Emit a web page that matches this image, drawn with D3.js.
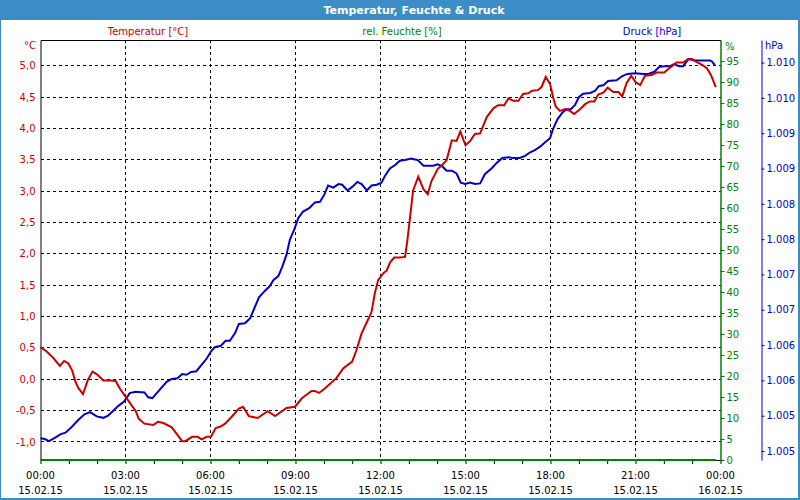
<!DOCTYPE html>
<html><head><meta charset="utf-8">
<script src="https://cdn.jsdelivr.net/npm/d3@7/dist/d3.min.js"></script>
<style>
body{margin:0;background:#fff}
svg{display:block}
text{font-family:"DejaVu Sans",sans-serif;font-size:10px}
</style>
</head><body>
<svg id="c" width="800" height="500"></svg>
<script>
// ---------- data ----------
const tempTimes = [0,13,27,41,50,59,67,74,80,90,100,110,119,133,147,159,168,180,194,201,208,220,239,249,260,278,290,300,307,321,333,341,352,361,371,380,391,405,420,429,441,460,481,497,521,539,553,574,581,590,602,627,641,660,669,680,693,701,708,715,726,733,740,749,761,772,777,782,789,800,811,820,828,841,851,860,871,881,889,900,910,920,931,945,959,969,982,991,1001,1012,1022,1033,1041,1053,1061,1070,1079,1086,1091,1100,1111,1121,1130,1143,1154,1164,1173,1181,1192,1201,1213,1224,1232,1241,1251,1260,1270,1280,1294,1305,1321,1333,1347,1361,1370,1379,1389,1402,1411,1420,1430];
const tempValues = [0.51,0.44,0.34,0.21,0.29,0.25,0.14,-0.04,-0.14,-0.24,-0.02,0.12,0.08,-0.02,-0.02,-0.03,-0.15,-0.28,-0.43,-0.50,-0.63,-0.71,-0.73,-0.68,-0.70,-0.77,-0.89,-0.99,-0.99,-0.92,-0.92,-0.96,-0.92,-0.92,-0.78,-0.76,-0.71,-0.60,-0.47,-0.44,-0.59,-0.62,-0.51,-0.59,-0.46,-0.44,-0.31,-0.19,-0.19,-0.22,-0.15,0.02,0.17,0.28,0.46,0.73,0.94,1.07,1.37,1.58,1.69,1.73,1.86,1.94,1.94,1.95,2.22,2.54,3.01,3.23,3.03,2.95,3.16,3.35,3.42,3.49,3.81,3.80,3.95,3.73,3.80,3.91,3.92,4.18,4.32,4.37,4.37,4.48,4.44,4.44,4.55,4.56,4.60,4.61,4.66,4.82,4.71,4.48,4.35,4.28,4.31,4.28,4.23,4.31,4.39,4.43,4.43,4.54,4.57,4.65,4.58,4.58,4.51,4.72,4.84,4.74,4.69,4.84,4.85,4.89,4.89,4.97,5.05,5.05,5.10,5.11,5.06,5.01,4.96,4.85,4.66];

const pressTimes = [0,9,18,31,43,53,66,80,93,105,119,133,143,154,165,177,189,201,220,228,237,249,267,278,290,300,309,319,330,341,352,362,369,382,392,401,412,420,433,444,454,463,474,486,493,504,512,521,528,537,546,556,569,581,592,601,609,620,631,639,650,660,671,680,691,701,712,722,729,740,751,761,772,785,799,811,821,832,841,851,860,871,881,890,899,910,920,931,941,955,966,978,991,1001,1015,1026,1037,1047,1058,1068,1079,1086,1095,1105,1114,1123,1132,1140,1149,1164,1174,1183,1192,1202,1220,1232,1243,1259,1277,1287,1300,1310,1324,1333,1342,1352,1361,1372,1385,1399,1418,1423,1428];
const pressValues = [1004.68,1004.67,1004.64,1004.69,1004.74,1004.76,1004.84,1004.94,1005.02,1005.05,1004.99,1004.97,1005.00,1005.07,1005.14,1005.20,1005.32,1005.34,1005.33,1005.26,1005.25,1005.34,1005.48,1005.52,1005.53,1005.59,1005.58,1005.62,1005.63,1005.72,1005.81,1005.92,1005.97,1005.99,1006.06,1006.06,1006.17,1006.30,1006.31,1006.38,1006.54,1006.68,1006.76,1006.84,1006.92,1006.98,1007.11,1007.28,1007.49,1007.63,1007.80,1007.89,1007.94,1008.02,1008.03,1008.13,1008.26,1008.23,1008.28,1008.27,1008.19,1008.24,1008.31,1008.28,1008.19,1008.26,1008.27,1008.30,1008.39,1008.50,1008.55,1008.61,1008.62,1008.64,1008.62,1008.54,1008.54,1008.54,1008.56,1008.53,1008.47,1008.47,1008.43,1008.30,1008.28,1008.30,1008.28,1008.29,1008.42,1008.50,1008.58,1008.65,1008.66,1008.65,1008.65,1008.68,1008.73,1008.76,1008.81,1008.87,1008.93,1009.07,1009.20,1009.29,1009.34,1009.34,1009.40,1009.51,1009.56,1009.57,1009.60,1009.67,1009.68,1009.74,1009.75,1009.81,1009.84,1009.85,1009.84,1009.84,1009.87,1009.94,1009.95,1009.95,1009.98,1009.95,1009.95,1010.05,1010.03,1010.03,1010.03,1010.01,1009.96];

const humTimes = [0, 1430];
const humValues = [0, 0];

const tempTicks = [-1.0,-0.5,0.0,0.5,1.0,1.5,2.0,2.5,3.0,3.5,4.0,4.5,5.0];
const tempTickLabels = ["-1,0","-0,5","0,0","0,5","1,0","1,5","2,0","2,5","3,0","3,5","4,0","4,5","5,0"];
const humTicks = [0,5,10,15,20,25,30,35,40,45,50,55,60,65,70,75,80,85,90,95];
const pressTicks = [1004.5,1005.0,1005.5,1006.0,1006.5,1007.0,1007.5,1008.0,1008.5,1009.0,1009.5,1010.0];
const pressTickLabels = ["1.005","1.005","1.006","1.006","1.007","1.007","1.008","1.008","1.009","1.009","1.010","1.010"];
const timeTicks = [0,180,360,540,720,900,1080,1260,1440];
const timeTickLabels = ["00:00","03:00","06:00","09:00","12:00","15:00","18:00","21:00","00:00"];
const dateTickLabels = ["15.02.15","15.02.15","15.02.15","15.02.15","15.02.15","15.02.15","15.02.15","15.02.15","16.02.15"];
const minorTimeTicks = d3.range(0, 1441, 60);

const title = "Temperatur, Feuchte & Druck";
const seriesNames = ["Temperatur [°C]", "rel. Feuchte [%]", "Druck [hPa]"];

// ---------- layout ----------
const RED = "#c80000", GREEN = "#008000", BLUE = "#0000c8", FRAME = "#3c8dc6";
const L = 40.5, R = 720.5, T = 40, B = 460;
const svg = d3.select("#c");

const x = d3.scaleLinear().domain([0, 1440]).range([L, R]);
const yT = d3.scaleLinear().domain([-1.29, 5.41]).range([B, T]);
const yH = d3.scaleLinear().domain([0, 100]).range([B, T]);
const yP = d3.scaleLinear().domain([1004.373, 1010.32]).range([B, T]);

svg.append("rect").attr("width", 800).attr("height", 500).attr("fill", "#fff");
// title bar & frame
svg.append("rect").attr("x", 0).attr("y", 0).attr("width", 800).attr("height", 20).attr("fill", FRAME);
svg.append("rect").attr("x", 0).attr("y", 0).attr("width", 1).attr("height", 500).attr("fill", FRAME);
svg.append("rect").attr("x", 798).attr("y", 0).attr("width", 2).attr("height", 500).attr("fill", FRAME);
svg.append("rect").attr("x", 0).attr("y", 498).attr("width", 800).attr("height", 2).attr("fill", FRAME);
svg.append("text").attr("x", 414).attr("y", 14).attr("text-anchor", "middle")
  .attr("fill", "#fff").style("font-weight", "bold").style("font-size", "11px").text(title);

// legend labels
const legendX = [148, 402, 652];
const legendCol = [RED, GREEN, BLUE];
seriesNames.forEach((n, i) => {
  svg.append("text").attr("x", legendX[i]).attr("y", 35).attr("text-anchor", "middle")
    .attr("fill", legendCol[i]).text(n);
});

// grid
const grid = svg.append("g").attr("stroke", "#000").attr("stroke-dasharray", "3,3").attr("shape-rendering", "crispEdges");
tempTicks.forEach(v => {
  grid.append("line").attr("x1", L).attr("x2", R).attr("y1", yT(v)).attr("y2", yT(v));
});
timeTicks.slice(1, -1).forEach(t => {
  grid.append("line").attr("x1", x(t)).attr("x2", x(t)).attr("y1", T).attr("y2", B);
});
// top frame line
svg.append("line").attr("x1", L).attr("x2", R).attr("y1", T + 0.5).attr("y2", T + 0.5)
  .attr("stroke", "#000").attr("shape-rendering", "crispEdges");

// left axis
const axL = svg.append("g").attr("transform", `translate(${L},0)`)
  .call(d3.axisLeft(yT).tickValues(tempTicks).tickFormat((d, i) => tempTickLabels[i]).tickSize(0).tickSizeOuter(0).tickPadding(5));
axL.select(".domain").attr("stroke", "#000");
axL.selectAll("text").attr("fill", RED).style("font-family", "DejaVu Sans").style("font-size", "10px");
svg.append("text").attr("x", 36).attr("y", 49).attr("text-anchor", "end").attr("fill", RED).text("°C");

// bottom axis
const axB = svg.append("g").attr("transform", `translate(0,${B})`)
  .call(d3.axisBottom(x).tickValues(minorTimeTicks).tickFormat("").tickSize(4).tickSizeOuter(0));
axB.select(".domain").attr("stroke", "#000");
axB.selectAll("line").attr("stroke", "#000");
const xl = svg.append("g").attr("fill", "#000").attr("text-anchor", "middle");
timeTicks.forEach((t, i) => {
  xl.append("text").attr("x", x(t)).attr("y", 479).text(timeTickLabels[i]);
  xl.append("text").attr("x", x(t)).attr("y", 494).text(dateTickLabels[i]);
});

// humidity axis (right, green)
const axH = svg.append("g").attr("transform", `translate(${R},0)`)
  .call(d3.axisRight(yH).tickValues(humTicks).tickFormat(d => d).tickSize(4).tickSizeOuter(0).tickPadding(2));
axH.select(".domain").attr("stroke", GREEN).attr("stroke-width", 1.5);
axH.selectAll(".tick line").attr("stroke", GREEN);
axH.selectAll("text").attr("fill", GREEN).style("font-family", "DejaVu Sans").style("font-size", "10px");
svg.append("text").attr("x", 725).attr("y", 50).attr("fill", GREEN).text("%");

// pressure axis (right, blue)
const axP = svg.append("g").attr("transform", `translate(761.5,0)`)
  .call(d3.axisRight(yP).tickValues(pressTicks).tickFormat((d, i) => pressTickLabels[i]).tickSize(3).tickSizeOuter(0).tickPadding(2));
axP.select(".domain").attr("stroke", BLUE);
axP.selectAll(".tick line").attr("stroke", BLUE);
axP.selectAll("text").attr("fill", BLUE).style("font-family", "DejaVu Sans").style("font-size", "10px");
svg.append("text").attr("x", 765).attr("y", 49).attr("fill", BLUE).text("hPa");

// series
const lineOf = (times, vals, ys) => d3.line().x((d, i) => x(times[i])).y((d, i) => ys(vals[i]))(vals);
svg.append("path").attr("d", lineOf(pressTimes, pressValues, yP)).attr("fill", "none").attr("stroke", BLUE).attr("stroke-width", 2);
svg.append("path").attr("d", lineOf(tempTimes, tempValues, yT)).attr("fill", "none").attr("stroke", RED).attr("stroke-width", 2);
svg.append("path").attr("d", lineOf(humTimes, humValues, yH)).attr("fill", "none").attr("stroke", GREEN).attr("stroke-width", 2);
</script>
</body></html>
